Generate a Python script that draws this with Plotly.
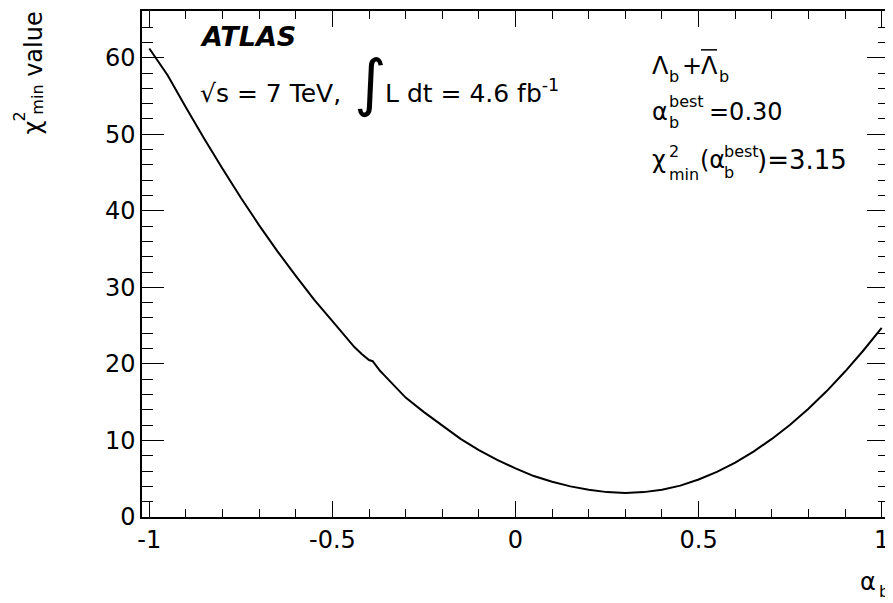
import plotly.graph_objects as go

alpha_b = [-1.00, -0.975, -0.95, -0.90, -0.85, -0.80, -0.75, -0.70, -0.65, -0.60, -0.55,
           -0.50, -0.46, -0.44, -0.42, -0.41, -0.40, -0.39, -0.38, -0.37, -0.36,
           -0.35, -0.34, -0.32, -0.30, -0.25, -0.20, -0.15, -0.10, -0.05, 0.00,
           0.05, 0.10, 0.15, 0.20, 0.25, 0.30, 0.35, 0.40, 0.45, 0.50,
           0.55, 0.60, 0.65, 0.70, 0.75, 0.80, 0.85, 0.90, 0.95, 1.00]
chi2_min = [61.2, 59.5, 57.7, 53.5, 49.4, 45.5, 41.7, 38.1, 34.7, 31.5, 28.4,
            25.6, 23.3, 22.2, 21.3, 20.85, 20.5, 20.35, 19.7, 19.1, 18.6,
            18.1, 17.5, 16.6, 15.6, 13.7, 11.9, 10.2, 8.75, 7.45, 6.35,
            5.35, 4.6, 4.0, 3.55, 3.25, 3.15, 3.25, 3.57, 4.1, 4.9,
            5.9, 7.1, 8.55, 10.2, 12.05, 14.15, 16.45, 19.0, 21.75, 24.7]

x_ticks = [-1, -0.5, 0, 0.5, 1]
x_tick_labels = ["-1", "-0.5", "0", "0.5", "1"]
y_ticks = [0, 10, 20, 30, 40, 50, 60]
y_tick_labels = ["0", "10", "20", "30", "40", "50", "60"]

FONT = "DejaVu Sans"

# page offset compensation (html body margin of 8px)
OFF = 8
PL, PR, PT, PB = 142, 889, 9, 517   # plot area in page pixels


def px(x):
    return (x - PL) / (PR - PL)


def py(y):
    return (PB - y) / (PB - PT)


fig = go.Figure()
fig.add_trace(go.Scatter(x=alpha_b, y=chi2_min, mode="lines",
                         line=dict(color="black", width=2), showlegend=False))

axis_common = dict(
    showline=True, linecolor="black", linewidth=1.5, mirror="allticks",
    ticks="inside", tickcolor="black", tickwidth=1.2,
    showgrid=False, zeroline=False,
    tickfont=dict(family=FONT, size=24, color="black"),
)

fig.update_xaxes(range=[-1.02, 1.02], tickvals=x_ticks, ticktext=x_tick_labels,
                 ticklen=16, minor=dict(dtick=0.1, ticklen=8, ticks="inside",
                                        tickcolor="black", tickwidth=1.2),
                 **axis_common)
fig.update_yaxes(range=[0, 66.1], tickvals=y_ticks, ticktext=y_tick_labels,
                 ticklen=22, minor=dict(dtick=2, ticklen=11, ticks="inside",
                                        tickcolor="black", tickwidth=1.2),
                 **axis_common)


def t(text, x, y, size=24, xa="left", ya="middle", angle=0):
    return dict(text=text, x=px(x), y=py(y), xanchor=xa, yanchor=ya, textangle=angle,
                xref="paper", yref="paper", showarrow=False,
                font=dict(family=FONT, size=size, color="black"))


S = 16
ann = [
    t("<b><i>ATLAS</i></b>", 198, 35, size=27),
    t("√s = 7 TeV,", 198, 92, size=25),
    t("∫", 352, 81, size=62),
    t("L dt = 4.6 fb<sup>-1</sup>", 383, 90, size=25),
    # Lambda_b + anti-Lambda_b
    t("Λ", 650, 64), t("b", 667, 75, size=S), t("+", 692, 64, xa="center"),
    t("Λ", 699, 64), t("b", 717, 75, size=S),
    # alpha_b^best = 0.30
    t("α", 650, 110), t("best", 667, 100, size=S), t("b", 667, 121, size=S),
    t("=0.30", 707, 110),
    # chi2_min(alpha_b^best) = 3.15
    t("χ", 650, 159), t("2", 667, 150, size=S), t("min", 667, 173, size=S),
    t("(α", 698, 159), t("best", 722, 150, size=S), t("b", 722, 171, size=S),
    t(")=3.15", 755, 159, size=26),
    # y-axis title (rotated)
    t("value", 34, 42, xa="center", angle=-90),
    t("χ", 33, 126, xa="center", angle=-90),
    t("2", 20, 115, size=S, xa="center", angle=-90),
    t("min", 38, 98, size=S, xa="center", angle=-90),
    # x-axis title
    t("α", 868, 582, xa="center"),
    t("b", 884, 592, size=S, xa="center"),
]

shapes = [dict(type="line", xref="paper", yref="paper",
               x0=px(701), x1=px(717), y0=py(48), y1=py(48),
               line=dict(color="black", width=1.5))]

fig.update_layout(
    width=893, height=603,
    margin=dict(l=PL - OFF, r=893 - PR + OFF, t=PT - OFF, b=603 - PB + OFF),
    paper_bgcolor="white", plot_bgcolor="white",
    annotations=ann, shapes=shapes,
)
fig.write_html("out.html")
